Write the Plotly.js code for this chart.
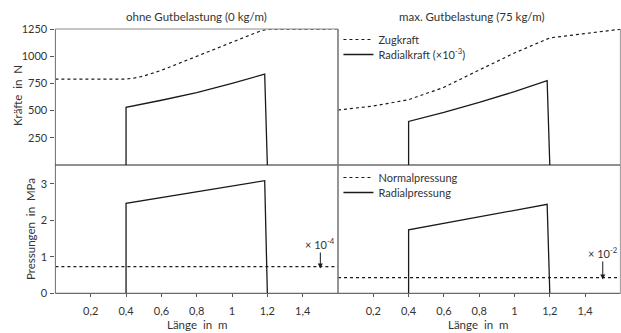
<!DOCTYPE html>
<html>
<head>
<meta charset="utf-8">
<script src="https://cdn.plot.ly/plotly-3.0.1.min.js"></script>
<style>
  html, body { margin: 0; padding: 0; background: #fff; }
  #chart { width: 621px; height: 333px; }
</style>
</head>
<body>
<div id="chart"></div>
<script>
// Position along the belt (m)
const xTicks = [0.2, 0.4, 0.6, 0.8, 1.0, 1.2, 1.4];

// ohne Gutbelastung (0 kg/m)
const zugX0 = [0, 0.4, 0.45, 0.5, 0.6, 0.7, 0.8, 0.9, 1.0, 1.1, 1.15, 1.2, 1.6];
const zugY0 = [790, 790, 800, 818, 870, 935, 1000, 1065, 1130, 1195, 1225, 1248, 1250];
const radKraftX0 = [0.4, 0.4, 0.6, 0.8, 1.0, 1.185, 1.2];
const radKraftY0 = [0, 530, 595, 665, 750, 835, 0];
const radPressX0 = [0.4, 0.4, 1.185, 1.2];
const radPressY0 = [0, 2.47, 3.09, 0];
const normPressX0 = [0, 1.6];
const normPressY0 = [0.73, 0.73];

// max. Gutbelastung (75 kg/m)
const zugX75 = [0, 0.2, 0.4, 0.6, 0.8, 1.0, 1.2, 1.4, 1.6];
const zugY75 = [505, 542, 600, 714, 873, 1030, 1168, 1210, 1248];
const radKraftX75 = [0.4, 0.4, 0.6, 0.8, 1.0, 1.185, 1.2];
const radKraftY75 = [0, 400, 483, 575, 675, 775, 0];
const radPressX75 = [0.4, 0.4, 1.185, 1.2];
const radPressY75 = [0, 1.74, 2.44, 0];
const normPressX75 = [0, 1.6];
const normPressY75 = [0.43, 0.43];

const kraftTicks = [250, 500, 750, 1000, 1250];
const pressTicks = [0, 1, 2, 3];

const ink = '#1a1a1a';
const dashed = {color: ink, width: 1.2, dash: '3px,3px'};
const solid = {color: ink, width: 1.3};

const traces = [
  {x: zugX0, y: zugY0, xaxis: 'x', yaxis: 'y', mode: 'lines', line: dashed, showlegend: false, hoverinfo: 'skip'},
  {x: radKraftX0, y: radKraftY0, xaxis: 'x', yaxis: 'y', mode: 'lines', line: solid, showlegend: false, hoverinfo: 'skip'},
  {x: zugX75, y: zugY75, xaxis: 'x2', yaxis: 'y2', mode: 'lines', line: dashed, name: 'Zugkraft', legend: 'legend'},
  {x: radKraftX75, y: radKraftY75, xaxis: 'x2', yaxis: 'y2', mode: 'lines', line: solid, name: 'Radialkraft (×10<sup>-3</sup>)', legend: 'legend2'},
  {x: normPressX0, y: normPressY0, xaxis: 'x3', yaxis: 'y3', mode: 'lines', line: dashed, showlegend: false, hoverinfo: 'skip'},
  {x: radPressX0, y: radPressY0, xaxis: 'x3', yaxis: 'y3', mode: 'lines', line: solid, showlegend: false, hoverinfo: 'skip'},
  {x: normPressX75, y: normPressY75, xaxis: 'x4', yaxis: 'y4', mode: 'lines', line: dashed, name: 'Normalpressung', legend: 'legend3'},
  {x: radPressX75, y: radPressY75, xaxis: 'x4', yaxis: 'y4', mode: 'lines', line: solid, name: 'Radialpressung', legend: 'legend4'}
];

const L = [55.4 / 621, 338 / 621];
const R = [338 / 621, 620.4 / 621];
const T = [1 - 165 / 333, 1 - 29 / 333];
const B = [1 - 293.3 / 333, 1 - 165 / 333];

const font = {family: 'Lato, "Open Sans", sans-serif', size: 11, color: '#333'};
const titleFont = Object.assign({}, font, {size: 11.5});
const axisGray = '#6e6e6e';

const xBase = {range: [0, 1.6], showgrid: false, zeroline: false, showline: false, fixedrange: true};
const xTop = Object.assign({}, xBase, {showticklabels: false, ticks: ''});
const xBottom = Object.assign({}, xBase, {
  tickvals: xTicks, ticks: 'outside', ticklen: 3, tickcolor: '#555', tickwidth: 1,
  ticklabelstandoff: 4, tickfont: font
});
const yBase = {showgrid: false, zeroline: false, showline: false, fixedrange: true};

// one legend box per entry so the rows sit close together
function legendAt(topPx) {
  return {x: 0.545, y: 1 - topPx / 333, xanchor: 'left', yanchor: 'top',
    bgcolor: 'rgba(0,0,0,0)', font: font, itemwidth: 30};
}

const layout = {
  width: 621, height: 333,
  margin: {l: 0, r: 0, t: 0, b: 0},
  paper_bgcolor: '#fff', plot_bgcolor: 'rgba(0,0,0,0)',
  font: font,
  separators: ',.',
  xaxis: Object.assign({}, xTop, {domain: L, anchor: 'y'}),
  xaxis2: Object.assign({}, xTop, {domain: R, anchor: 'y2'}),
  xaxis3: Object.assign({}, xBottom, {domain: L, anchor: 'y3'}),
  xaxis4: Object.assign({}, xBottom, {domain: R, anchor: 'y4'}),
  yaxis: Object.assign({}, yBase, {domain: T, anchor: 'x', range: [0, 1250], tickvals: kraftTicks,
    ticks: 'outside', ticklen: 4, tickcolor: '#555', tickfont: font, ticklabelstandoff: 1}),
  yaxis2: Object.assign({}, yBase, {domain: T, anchor: 'x2', range: [0, 1250], showticklabels: false, ticks: ''}),
  yaxis3: Object.assign({}, yBase, {domain: B, anchor: 'x3', range: [0, 3.52], tickvals: pressTicks,
    ticks: 'outside', ticklen: 4, tickcolor: '#555', tickfont: font, ticklabelstandoff: 1}),
  yaxis4: Object.assign({}, yBase, {domain: B, anchor: 'x4', range: [0, 3.52], showticklabels: false, ticks: ''}),
  legend: legendAt(25),
  legend2: legendAt(40),
  legend3: legendAt(163),
  legend4: legendAt(178),
  shapes: [
    // frame: left axis, top edge of left panel, middle, bottom, divider, right edge
    {type: 'line', xref: 'paper', yref: 'paper', x0: L[0], x1: L[0], y0: B[0], y1: T[1], line: {color: axisGray, width: 1}},
    {type: 'line', xref: 'paper', yref: 'paper', x0: L[0], x1: L[1], y0: T[1], y1: T[1], line: {color: '#8a8a8a', width: 1}},
    {type: 'line', xref: 'paper', yref: 'paper', x0: L[0], x1: R[1], y0: T[0], y1: T[0], line: {color: '#222', width: 1.2}},
    {type: 'line', xref: 'paper', yref: 'paper', x0: L[0], x1: R[1], y0: B[0], y1: B[0], line: {color: '#444', width: 1}},
    {type: 'line', xref: 'paper', yref: 'paper', x0: R[0], x1: R[0], y0: B[0], y1: T[1], line: {color: '#7a7a7a', width: 1.6}},
    {type: 'line', xref: 'paper', yref: 'paper', x0: R[1], x1: R[1], y0: B[0], y1: T[1], line: {color: '#9a9a9a', width: 1}}
  ],
  annotations: [
    {text: 'ohne Gutbelastung (0 kg/m)', xref: 'paper', yref: 'paper', x: 196 / 621, y: 1 - 16 / 333,
      showarrow: false, xanchor: 'center', yanchor: 'middle', font: titleFont},
    {text: 'max. Gutbelastung (75 kg/m)', xref: 'paper', yref: 'paper', x: 472 / 621, y: 1 - 16 / 333,
      showarrow: false, xanchor: 'center', yanchor: 'middle', font: titleFont},
    {text: 'Kräfte  in  N', xref: 'paper', yref: 'paper', x: 18 / 621, y: 1 - 96 / 333, textangle: -90,
      showarrow: false, xanchor: 'center', yanchor: 'middle', font: titleFont},
    {text: 'Pressungen  in  MPa', xref: 'paper', yref: 'paper', x: 30 / 621, y: 1 - 229 / 333, textangle: -90,
      showarrow: false, xanchor: 'center', yanchor: 'middle', font: titleFont},
    {text: 'Länge  in  m', xref: 'paper', yref: 'paper', x: 197 / 621, y: 1 - 324 / 333,
      showarrow: false, xanchor: 'center', yanchor: 'middle', font: titleFont},
    {text: 'Länge  in  m', xref: 'paper', yref: 'paper', x: 478 / 621, y: 1 - 324 / 333,
      showarrow: false, xanchor: 'center', yanchor: 'middle', font: titleFont},
    {text: '× 10<sup>-4</sup>', xref: 'x3', yref: 'y3', x: 1.5, y: normPressY0[0] - 0.05,
      showarrow: true, ax: 0, ay: -25, arrowhead: 2, arrowsize: 1, arrowwidth: 1, arrowcolor: ink, font: font},
    {text: '× 10<sup>-2</sup>', xref: 'x4', yref: 'y4', x: 1.5, y: normPressY75[0] - 0.05,
      showarrow: true, ax: 0, ay: -27, arrowhead: 2, arrowsize: 1, arrowwidth: 1, arrowcolor: ink, font: font}
  ]
};

Plotly.newPlot('chart', traces, layout, {displayModeBar: false, staticPlot: true});
</script>
</body>
</html>
